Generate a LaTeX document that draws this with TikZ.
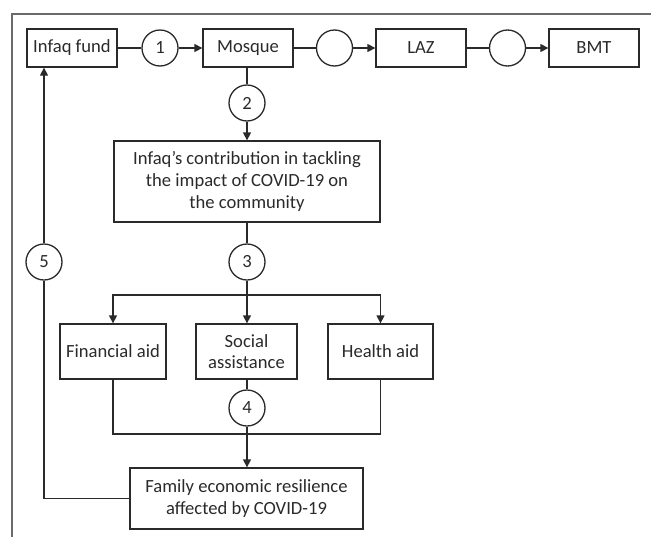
\documentclass[tikz,border=0pt]{standalone}
\usepackage{fontspec}
\setmainfont{Carlito}
\usetikzlibrary{arrows.meta}
\definecolor{ink}{HTML}{2A2A2A}
\definecolor{framec}{HTML}{6A6A6A}
\begin{document}
\begin{tikzpicture}[x=1pt,y=-1pt,
  font=\fontsize{18.6}{21.7}\selectfont,
  every node/.style={text=ink},
  box/.style={draw=ink, line width=1.3pt, inner sep=0pt, align=center},
  num/.style={draw=ink, line width=1.3pt, circle, minimum size=36pt, inner sep=0pt},
  conn/.style={draw=ink, line width=1.3pt},
  arr/.style={conn, -{Triangle[length=8pt,width=8pt]}}]
\useasboundingbox (0,0) rectangle (651,536);
\draw[framec, line width=1.3pt] (12,537) -- (12,14) -- (652,14);
% top row
\node[box, minimum width=90pt, minimum height=38pt] (fund) at (72,48) {Infaq fund};
\node[num] (c1) at (160,48) {1};
\node[box, minimum width=90pt, minimum height=38pt] (mosque) at (248,48) {Mosque};
\node[num] (ce1) at (334.5,48) {};
\node[box, minimum width=90pt, minimum height=38pt] (laz) at (421,48) {LAZ};
\node[num] (ce2) at (507.5,48) {};
\node[box, minimum width=90pt, minimum height=38pt] (bmt) at (594,48) {BMT};
% column
\node[num] (c2) at (247,103) {2};
\node[box, minimum width=266pt, minimum height=81pt] (contrib) at (247,181.5)
  {Infaq’s contribution in tackling\\the impact of COVID-19 on\\the community};
\node[num] (c3) at (247,262) {3};
\node[num] (c5) at (44,262) {5};
\coordinate (br) at (247,295);
\node[box, minimum width=106pt, minimum height=55pt] (fin) at (113,351.5) {Financial aid};
\node[box, minimum width=101pt, minimum height=55pt] (soc) at (246.5,351.5) {Social\\assistance};
\node[box, minimum width=105pt, minimum height=55pt] (hea) at (380.5,351.5) {Health aid};
\node[num] (c4) at (247,408) {4};
\coordinate (jn) at (247,434);
\node[box, minimum width=233pt, minimum height=61pt] (fam) at (246.5,498.5)
  {Family economic resilience\\affected by COVID-19};
% connectors
\draw[conn] (fund) -- (c1);
\draw[arr] (c1) -- (mosque);
\draw[conn] (mosque) -- (ce1);
\draw[arr] (ce1) -- (laz);
\draw[conn] (laz) -- (ce2);
\draw[arr] (ce2) -- (bmt);
\draw[conn] (mosque.south -| c2) -- (c2);
\draw[arr] (c2) -- (contrib);
\draw[conn] (contrib.south -| c3) -- (c3);
\draw[arr] (c3) -- (soc.north -| c3);
\draw[arr] (br) -| (fin.north);
\draw[arr] (br) -| (hea.north);
\draw[conn] (soc.south -| c4) -- (c4);
\draw[arr] (c4) -- (fam.north -| c4);
\draw[conn] (fin.south) |- (jn) -| (hea.south);
\draw[conn] (fam.west) -| (c5);
\draw[arr] (c5) -- (c5 |- fund.south);
\end{tikzpicture}
\end{document}
